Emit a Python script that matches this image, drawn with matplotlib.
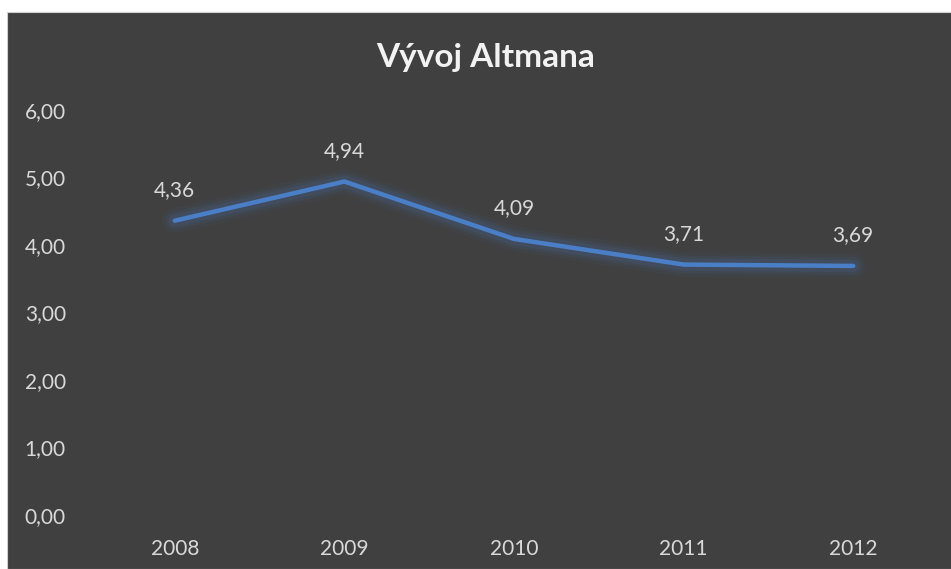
import matplotlib.pyplot as plt

years = ['2008', '2009', '2010', '2011', '2012']
altman = [4.36, 4.94, 4.09, 3.71, 3.69]
yticks = [0, 1, 2, 3, 4, 5, 6]

bg = '#404040'
txt = '#d9d9d9'
line_col = '#4a7fc8'

plt.rcParams['font.family'] = ['Lato', 'DejaVu Sans']

fig = plt.figure(figsize=(9.51, 5.69), dpi=100)
fig.patch.set_facecolor('white')
# dark chart area with thin white margin top/left
fig.patches.append(plt.Rectangle((7 / 951, 0), 1, 1 - 12 / 569, transform=fig.transFigure,
                                 facecolor=bg, edgecolor='#d0d0d0', linewidth=0.8, zorder=-1))

ax = fig.add_axes([90 / 951, 54 / 569, 848 / 951, 405 / 569])
ax.set_facecolor('none')
x = list(range(len(years)))

# glow
for lw, a in [(18, 0.05), (13, 0.08), (9, 0.12)]:
    ax.plot(x, altman, color=line_col, lw=lw, alpha=a, solid_capstyle='round', solid_joinstyle='round')
ax.plot(x, altman, color=line_col, lw=3.2, solid_capstyle='round', solid_joinstyle='round')

for xi, v in zip(x, altman):
    ax.annotate(f'{v:.2f}'.replace('.', ','), (xi, v), xytext=(0, 15), textcoords='offset points',
                ha='center', va='bottom', color=txt, fontsize=15)

ax.set_xlim(-0.5, len(years) - 0.5)
ax.set_ylim(0, 6)
ax.set_xticks(x)
ax.set_xticklabels(years)
ax.set_yticks(yticks)
ax.set_yticklabels([f'{t:.2f}'.replace('.', ',') for t in yticks])
ax.tick_params(axis='both', length=0, colors=txt, labelsize=15)
ax.tick_params(axis='x', pad=17)
ax.tick_params(axis='y', pad=47)
for lab in ax.get_yticklabels():
    lab.set_horizontalalignment('left')
for s in ax.spines.values():
    s.set_visible(False)

fig.text(486 / 951, 1 - 58 / 569, 'Vývoj Altmana', ha='center', va='center',
         color='#f2f2f2', fontsize=24, fontweight='bold')

fig.savefig('out.png', dpi=100, facecolor=fig.get_facecolor())
